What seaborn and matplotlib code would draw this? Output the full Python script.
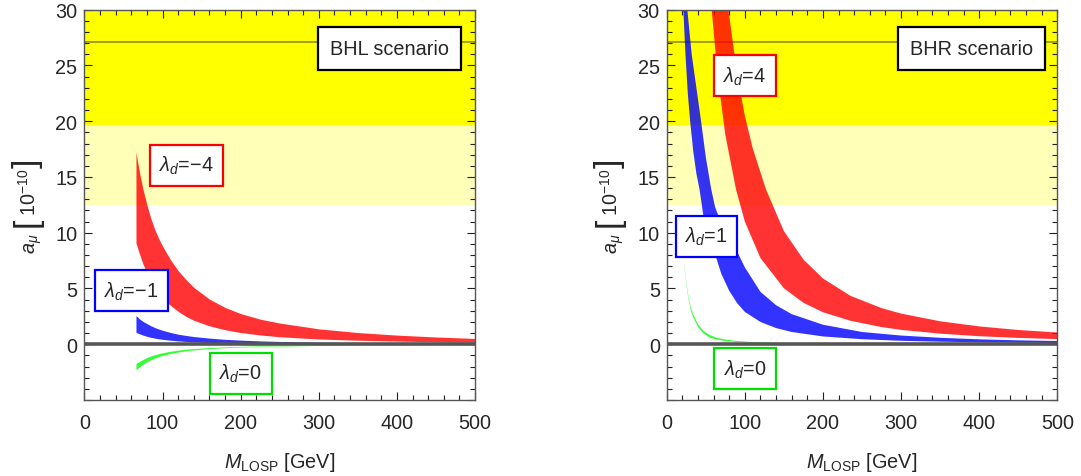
import numpy as np
import matplotlib
matplotlib.use("Agg")
import matplotlib.pyplot as plt
import seaborn as sns

# ---------------- data ----------------
# Left panel: BHL scenario, common mass grid [GeV]
M_BHL = [66, 68, 70, 72, 75, 80, 85, 90, 95, 100, 110, 120, 130, 140, 160, 180, 200, 225, 250, 300, 350, 400, 450, 500]
BHL_RED_HI = [17.2, 16.4, 15.6, 14.9, 13.9, 12.5, 11.3, 10.3, 9.5, 8.8, 7.6, 6.6, 5.8, 5.1, 4.05, 3.3, 2.75, 2.25, 1.9, 1.38, 1.05, 0.82, 0.65, 0.52]
BHL_RED_LO = [9.1, 8.65, 8.2, 7.8, 7.2, 6.4, 5.7, 5.1, 4.6, 4.1, 3.5, 2.95, 2.5, 2.15, 1.65, 1.3, 1.05, 0.83, 0.67, 0.47, 0.36, 0.28, 0.22, 0.18]
BHL_BLUE_HI = [2.56, 2.45, 2.3, 2.2, 2.05, 1.85, 1.66, 1.5, 1.37, 1.25, 1.06, 0.9, 0.79, 0.69, 0.55, 0.44, 0.37, 0.3, 0.25, 0.18, 0.14, 0.11, 0.09, 0.075]
BHL_BLUE_LO = [1.07, 1.01, 0.95, 0.9, 0.82, 0.71, 0.62, 0.55, 0.49, 0.44, 0.36, 0.30, 0.25, 0.21, 0.16, 0.125, 0.10, 0.08, 0.06, 0.04, 0.03, 0.022, 0.018, 0.014]
BHL_GREEN_HI = [-1.75, -1.65, -1.56, -1.48, -1.36, -1.19, -1.05, -0.94, -0.84, -0.76, -0.63, -0.53, -0.45, -0.39, -0.30, -0.235, -0.19, -0.15, -0.12, -0.085, -0.062, -0.048, -0.038, -0.03]
BHL_GREEN_LO = [-2.3, -2.17, -2.04, -1.93, -1.78, -1.57, -1.39, -1.24, -1.11, -1.0, -0.83, -0.70, -0.59, -0.51, -0.39, -0.31, -0.25, -0.2, -0.16, -0.11, -0.08, -0.063, -0.05, -0.04]

# Right panel: BHR scenario, each band edge with its own mass grid [GeV]
BHR_RED_HI_M = [79, 90, 100, 110, 127, 150, 175, 200, 235, 275, 300, 350, 400, 450, 500]
BHR_RED_HI = [30, 24.3, 20.5, 17.6, 13.9, 10.15, 7.6, 5.9, 4.35, 3.24, 2.75, 2.06, 1.6, 1.28, 1.05]
BHR_RED_LO_M = [57.6, 65, 75, 88.7, 100, 120, 150, 175, 200, 235, 275, 300, 350, 400, 450, 500]
BHR_RED_LO = [30, 24.2, 18.8, 13.9, 11.0, 7.73, 5.02, 3.72, 2.87, 2.11, 1.54, 1.29, 0.95, 0.72, 0.57, 0.46]

BHR_BLUE_HI_M = [26.4, 32, 38, 44, 50, 57, 62, 70, 80, 91.7, 100, 120, 140, 160, 200, 250, 300, 350, 400, 450, 500]
BHR_BLUE_HI = [30, 26, 23, 20, 16.8, 13.9, 12.3, 10.8, 9.4, 8.1, 6.9, 4.7, 3.5, 2.7, 1.75, 1.1, 0.78, 0.58, 0.44, 0.35, 0.29]
BHR_BLUE_LO_M = [21.3, 24, 27, 30, 34, 38, 42, 47, 54, 61.8, 70, 80, 90, 100, 120, 140, 160, 200, 250, 300, 350, 400, 450, 500]
BHR_BLUE_LO = [30, 26, 22.5, 20, 17.3, 15.3, 13.9, 11.5, 9.6, 8.1, 6.3, 4.8, 3.7, 2.9, 2.0, 1.45, 1.1, 0.7, 0.45, 0.31, 0.23, 0.17, 0.14, 0.11]

BHR_GREEN_M = [22, 25, 28, 31, 34, 40, 47, 55, 65, 77, 90, 110, 140, 200, 300, 500]
BHR_GREEN_HI = [7.3, 5.6, 4.2, 3.25, 2.65, 1.8, 1.2, 0.82, 0.56, 0.4, 0.29, 0.19, 0.11, 0.055, 0.025, 0.01]
BHR_GREEN_LO = [7.2, 5.45, 4.0, 3.0, 2.4, 1.55, 0.98, 0.6, 0.4, 0.28, 0.2, 0.13, 0.075, 0.035, 0.015, 0.006]

EXP_BAND_1S = (19.7, 30.0)     # dark yellow
EXP_BAND_2S = (12.5, 19.7)     # light yellow
CENTRAL = 27.1

LABELS_BHL = [(r"$\lambda_d$=−4", 130.4, 16.07, "#ff0000"),
              (r"$\lambda_d$=−1", 59.9, 4.82, "#0000ff"),
              (r"$\lambda_d$=0", 200.3, -2.61, "#00e000")]
LABELS_BHR = [(r"$\lambda_d$=4", 99.8, 24.1, "#ff0000"),
              (r"$\lambda_d$=1", 50.7, 9.7, "#0000ff"),
              (r"$\lambda_d$=0", 100.3, -2.2, "#00e000")]

# ---------------- style ----------------
sns.set_theme(style="ticks")
plt.rcParams["font.family"] = ["Liberation Sans", "DejaVu Sans"]
plt.rcParams["mathtext.fontset"] = "custom"
plt.rcParams["mathtext.rm"] = "Liberation Sans"
plt.rcParams["mathtext.it"] = "Liberation Sans:italic"
plt.rcParams["mathtext.bf"] = "Liberation Sans:bold"

RED = (1.0, 0.0, 0.0, 0.8)
BLUE = (0.0, 0.0, 1.0, 0.8)
GREEN = (0.0, 1.0, 0.0, 0.8)
FS = 14.3

W, H = 1081, 477
fig = plt.figure(figsize=(W / 100, H / 100), dpi=100)
bottom = 1 - 401 / H
height = (401 - 10.7) / H
ax1 = fig.add_axes([84.4 / W, bottom, (475 - 84.4) / W, height])
ax2 = fig.add_axes([666.7 / W, bottom, (1057.3 - 666.7) / W, height])
renderer = fig.canvas.get_renderer()


def ylabel_pieces(x_px, y_start_px):
    """y label 'a_mu [10^-10]' with tall brackets, built bottom to top."""
    pieces = [(r"$a_\mu$", FS, 7), ("[", 24, 1), (r"$10^{-10}$", FS, 1), ("]", 24, 0)]
    y = H - y_start_px
    for s, fs, gap in pieces:
        t = fig.text(x_px / W, y / H, s, rotation=90, rotation_mode="anchor",
                     ha="left", va="baseline", fontsize=fs)
        ext = t.get_window_extent(renderer)
        y += ext.height + gap


def common(ax, scen):
    ax.set_xlim(0, 500)
    ax.set_ylim(-5, 30)
    ax.axhspan(*EXP_BAND_1S, color="#ffff00", lw=0, zorder=0)
    ax.axhspan(*EXP_BAND_2S, color="#ffffb8", lw=0, zorder=0)
    ax.axhline(CENTRAL, color="#9a9800", lw=1.3, zorder=1)
    sns.lineplot(x=[0, 500], y=[0, 0], ax=ax, color="#555555", lw=2.6, zorder=3)
    ax.set_xticks(np.arange(0, 501, 100))
    ax.set_xticks(np.arange(0, 501, 20), minor=True)
    ax.set_yticks(np.arange(-5, 31, 5))
    ax.set_yticklabels([""] + [str(v) for v in range(0, 31, 5)])
    ax.set_yticks(np.arange(-5, 31, 1), minor=True)
    ax.tick_params(which="both", direction="in", top=True, right=True,
                   labelsize=FS, color="#222222", width=0.8)
    ax.tick_params(which="major", length=6)
    ax.tick_params(which="minor", length=3.6)
    ax.tick_params(axis="x", which="major", pad=9.5)
    ax.tick_params(axis="y", which="major", pad=5)
    for s in ax.spines.values():
        s.set_color("#555555")
        s.set_linewidth(1.0)
    ax.set_xlabel(r"$M_{\mathrm{LOSP}}$ [GeV]", fontsize=FS, labelpad=13)
    ax.set_ylabel("")
    ax.text(390.5, 26.55, scen, fontsize=FS, ha="center", va="center", zorder=6,
            bbox=dict(boxstyle="square,pad=0.6", fc="white", ec="black", lw=1.6))


def labels(ax, items):
    for txt, x, y, c in items:
        ax.text(x, y, txt, fontsize=FS, ha="center", va="center", zorder=6,
                bbox=dict(boxstyle="square,pad=0.47", fc="white", ec=c, lw=1.6))


def band(ax, m_lo, y_lo, m_hi, y_hi, color):
    xs = list(m_lo) + list(m_hi)[::-1]
    ys = list(y_lo) + list(y_hi)[::-1]
    ax.fill(xs, ys, color=color, lw=0, zorder=2)


common(ax1, "BHL scenario")
ax1.fill_between(M_BHL, BHL_RED_LO, BHL_RED_HI, color=RED, lw=0, zorder=2)
ax1.fill_between(M_BHL, BHL_BLUE_LO, BHL_BLUE_HI, color=BLUE, lw=0, zorder=2)
ax1.fill_between(M_BHL, BHL_GREEN_LO, BHL_GREEN_HI, color=GREEN, lw=0, zorder=2)
labels(ax1, LABELS_BHL)

common(ax2, "BHR scenario")
band(ax2, BHR_BLUE_LO_M, BHR_BLUE_LO, BHR_BLUE_HI_M, BHR_BLUE_HI, BLUE)
band(ax2, BHR_RED_LO_M, BHR_RED_LO, BHR_RED_HI_M, BHR_RED_HI, RED)
band(ax2, BHR_GREEN_M, BHR_GREEN_LO, BHR_GREEN_M, BHR_GREEN_HI, GREEN)
labels(ax2, LABELS_BHR)

ylabel_pieces(36, 254)
ylabel_pieces(618, 254)

fig.savefig("out.png", dpi=100)
